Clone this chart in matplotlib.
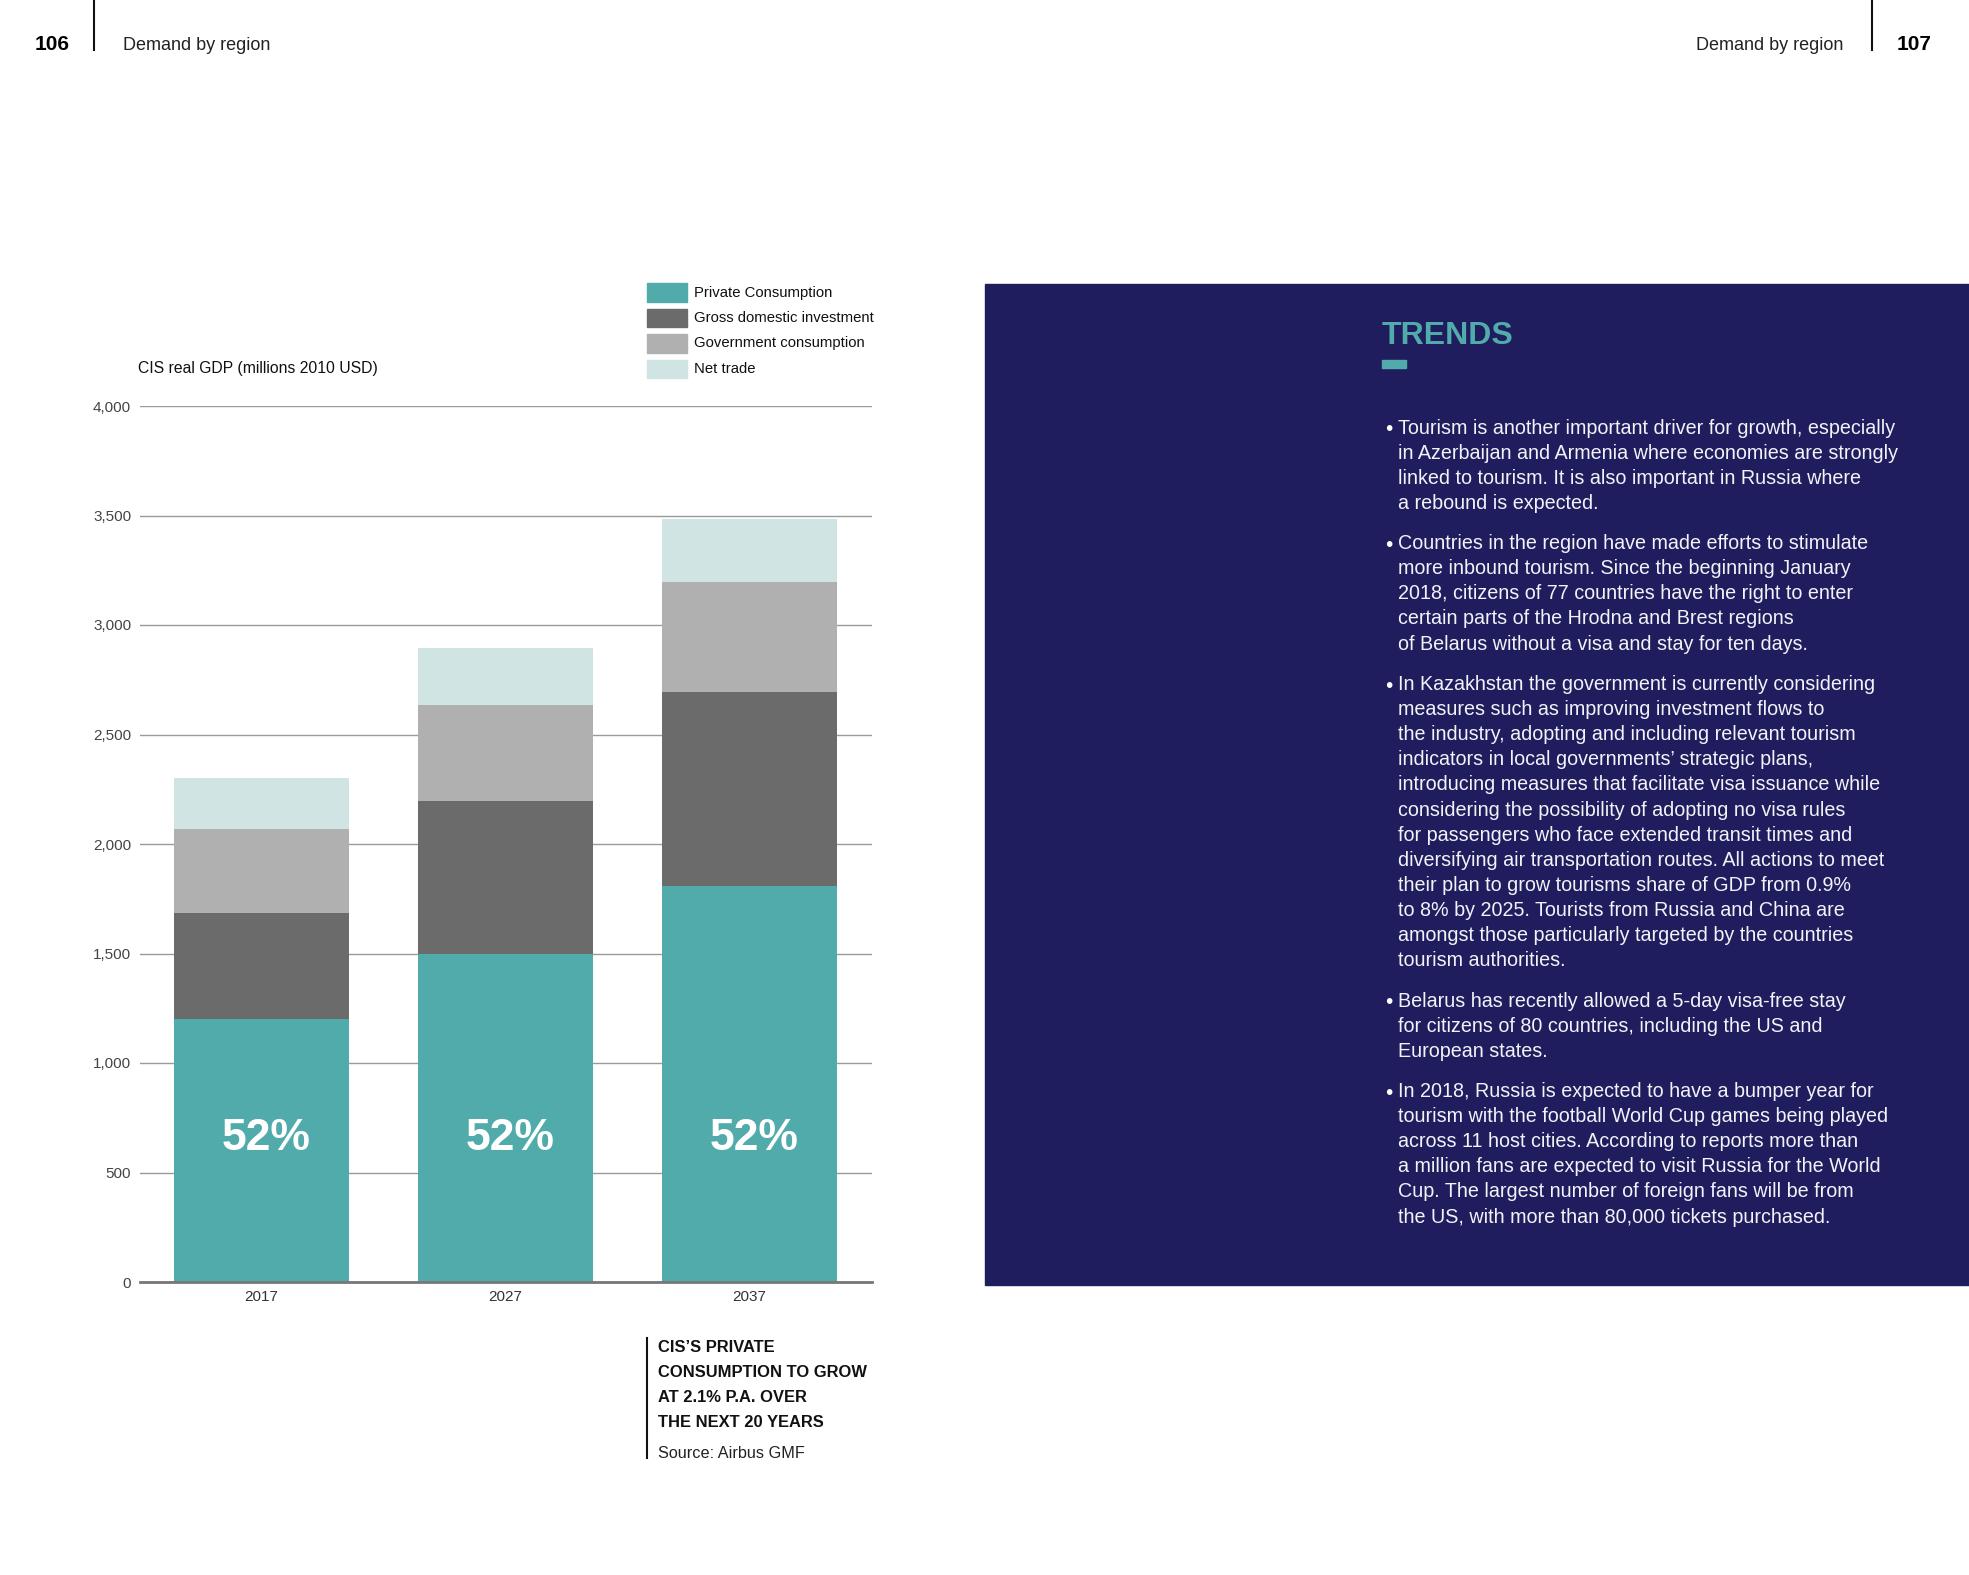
import matplotlib
matplotlib.use('Agg')
import matplotlib.pyplot as plt
from matplotlib.patches import Rectangle

# data
years = ['2017', '2027', '2037']
private_cons = [1200, 1500, 1810]
gross_inv = [485, 695, 885]
gov_cons = [385, 440, 500]
net_trade = [230, 260, 290]
share_labels = ['52%', '52%', '52%']
series_names = ['Private Consumption', 'Gross domestic investment',
                'Government consumption', 'Net trade']
colors = ['#52abab', '#6b6b6b', '#b0b0b0', '#cfe4e3']
yticks = [0, 500, 1000, 1500, 2000, 2500, 3000, 3500, 4000]

paragraphs = [
    ['Tourism is another important driver for growth, especially',
     'in Azerbaijan and Armenia where economies are strongly',
     'linked to tourism. It is also important in Russia where',
     'a rebound is expected.'],
    ['Countries in the region have made efforts to stimulate',
     'more inbound tourism. Since the beginning January',
     '2018, citizens of 77 countries have the right to enter',
     'certain parts of the Hrodna and Brest regions',
     'of Belarus without a visa and stay for ten days.'],
    ['In Kazakhstan the government is currently considering',
     'measures such as improving investment flows to',
     'the industry, adopting and including relevant tourism',
     'indicators in local governments\u2019 strategic plans,',
     'introducing measures that facilitate visa issuance while',
     'considering the possibility of adopting no visa rules',
     'for passengers who face extended transit times and',
     'diversifying air transportation routes. All actions to meet',
     'their plan to grow tourisms share of GDP from 0.9%',
     'to 8% by 2025. Tourists from Russia and China are',
     'amongst those particularly targeted by the countries',
     'tourism authorities.'],
    ['Belarus has recently allowed a 5-day visa-free stay',
     'for citizens of 80 countries, including the US and',
     'European states.'],
    ['In 2018, Russia is expected to have a bumper year for',
     'tourism with the football World Cup games being played',
     'across 11 host cities. According to reports more than',
     'a million fans are expected to visit Russia for the World',
     'Cup. The largest number of foreign fans will be from',
     'the US, with more than 80,000 tickets purchased.'],
]
caption = ['CIS\u2019S PRIVATE', 'CONSUMPTION TO GROW',
           'AT 2.1% P.A. OVER', 'THE NEXT 20 YEARS']

W, H = 1969, 1575
plt.rcParams['font.family'] = ['Liberation Sans', 'DejaVu Sans']

def px(x, y):
    return x / W, 1 - y / H

fig = plt.figure(figsize=(W / 100, H / 100), dpi=100)
fig.patch.set_facecolor('white')

# chart
ax = fig.add_axes([139.5 / W, 1 - 1282 / H, 732 / W, 876 / H])
bottom = [0, 0, 0]
x = list(range(len(years)))
for vals, c in zip([private_cons, gross_inv, gov_cons, net_trade], colors):
    ax.bar(x, vals, width=0.717, bottom=bottom, color=c, zorder=3)
    bottom = [b + v for b, v in zip(bottom, vals)]
for i, lab in enumerate(share_labels):
    ax.text(i + 0.02, 655, lab, ha='center', va='center', color='white',
            fontsize=32, fontweight='bold')
ax.set_xlim(-0.5, 2.5)
ax.set_ylim(0, 4000)
ax.set_yticks(yticks)
ax.set_yticklabels([f'{v:,}' for v in yticks], fontsize=11, color='#444444')
ax.set_xticks(x)
ax.set_xticklabels(years, fontsize=11, color='#333333')
ax.tick_params(axis='both', length=0)
ax.tick_params(axis='y', pad=6)
ax.tick_params(axis='x', pad=6)
ax.grid(axis='y', color='#9a9a9a', linewidth=1.0, zorder=0)
for s in ['top', 'right', 'left']:
    ax.spines[s].set_visible(False)
ax.spines['bottom'].set_color('#777777')
ax.spines['bottom'].set_linewidth(2)
ax.spines['bottom'].set_zorder(4)

fig.text(*px(138, 369), 'CIS real GDP (millions 2010 USD)', fontsize=11.3,
         color='#111111', va='center', ha='left')

# legend
for k, (name, c) in enumerate(zip(series_names, colors)):
    yc = 292.5 + k * 25.5
    fig.patches.append(Rectangle(px(647, yc + 9), 40 / W, 18 / H, color=c,
                                 transform=fig.transFigure, figure=fig))
    fig.text(*px(694, yc), name, fontsize=10.7, color='#111111', va='center',
             ha='left')

# page header
fig.text(*px(35, 44), '106', fontsize=15, fontweight='bold', va='center', ha='left')
fig.text(*px(123, 45), 'Demand by region', fontsize=13, color='#222222', va='center', ha='left')
fig.add_artist(plt.Line2D([94 / W, 94 / W], [1, 1 - 50 / H], color='#111111', lw=1.5))
fig.text(*px(1931, 44), '107', fontsize=15, fontweight='bold', va='center', ha='right')
fig.text(*px(1843, 45), 'Demand by region', fontsize=13, color='#222222', va='center', ha='right')
fig.add_artist(plt.Line2D([1872 / W, 1872 / W], [1, 1 - 50 / H], color='#111111', lw=1.5))

# caption
fig.add_artist(plt.Line2D([647 / W, 647 / W], [1 - 1338 / H, 1 - 1458 / H],
                          color='#111111', lw=1.5))
for k, line in enumerate(caption):
    fig.text(*px(658, 1347.5 + k * 25.1), line, fontsize=11.9, fontweight='bold',
             color='#111111', va='center', ha='left')
fig.text(*px(658, 1453), 'Source: Airbus GMF', fontsize=11.7, color='#222222',
         va='center', ha='left')

# trends panel
fig.patches.append(Rectangle(px(984.5, 1284.5), (W - 984.5) / W, 1001 / H,
                             color='#201d5f', transform=fig.transFigure, figure=fig))
fig.text(*px(1382, 336), 'TRENDS', fontsize=23, fontweight='bold', color='#52abab',
         va='center', ha='left')
fig.patches.append(Rectangle(px(1382, 367.5), 23.5 / W, 7 / H, color='#52abab',
                             transform=fig.transFigure, figure=fig))
y = 428
for para in paragraphs:
    fig.text(*px(1385, y + 1.5), '\u2022', fontsize=15, color='white', va='center', ha='left')
    for line in para:
        fig.text(*px(1398, y), line, fontsize=14.2, color='#f2f2f7', va='center', ha='left')
        y += 25.1
    y += 15.3

fig.savefig('out.png', dpi=100, facecolor='white')
